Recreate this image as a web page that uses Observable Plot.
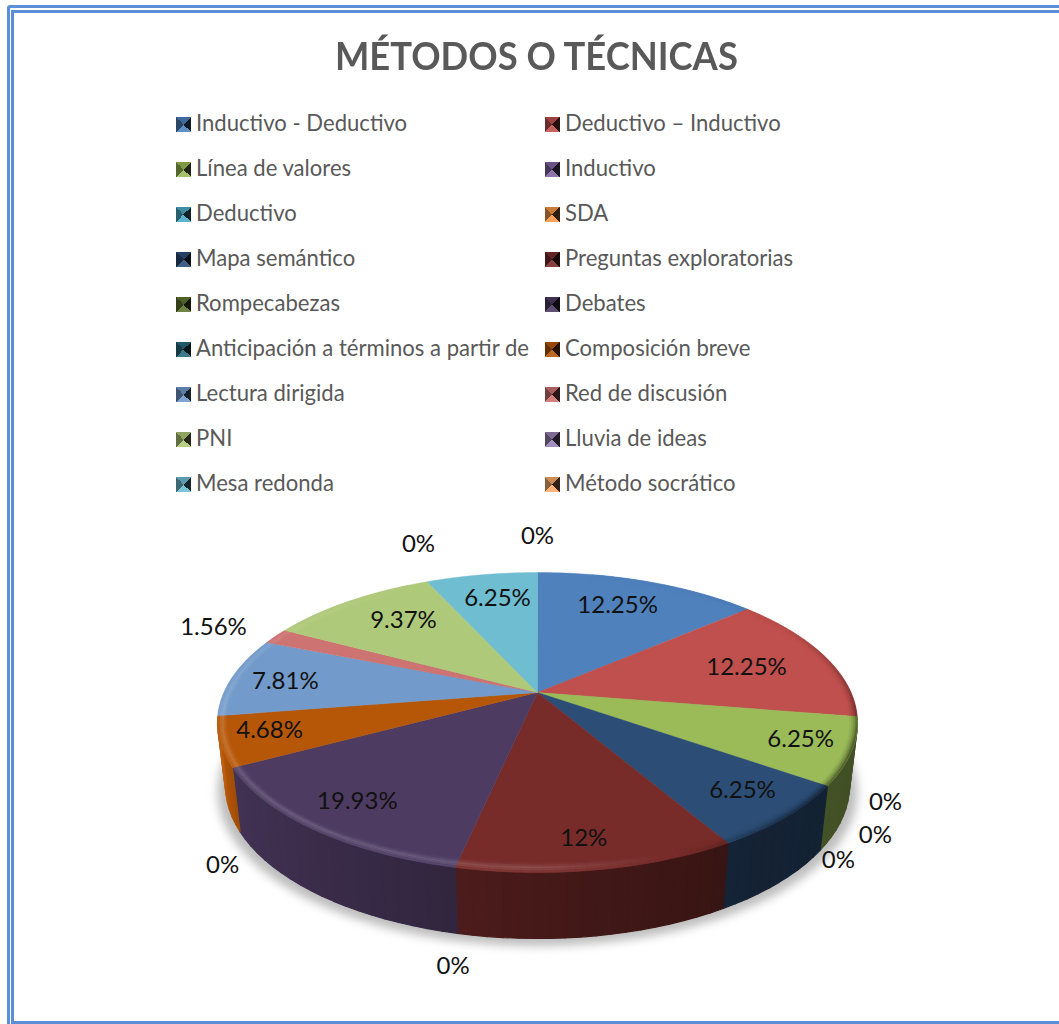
<!DOCTYPE html>
<html lang="es">
<head>
<meta charset="utf-8">
<script src="https://cdn.jsdelivr.net/npm/d3@7"></script>
<script src="https://cdn.jsdelivr.net/npm/@observablehq/plot@0.6"></script>
<style>
html,body{margin:0;padding:0;background:#fff;width:1059px;height:1024px;overflow:hidden;font-family:Lato,sans-serif}
.frame{position:absolute;border:3px solid #5b90d8;box-sizing:border-box}
#outer{left:7px;top:5px;width:1200px;height:1200px;border-radius:3px 0 0 0}
#inner{left:11px;top:10px;width:1200px;height:1014px}
#title{position:absolute;left:335px;top:31px;font-size:38px;line-height:48px;font-weight:700;color:#595959;white-space:nowrap;transform:scaleX(.957);transform-origin:0 50%}
.lg{position:absolute;font-size:22.1px;line-height:28px;color:#595959;white-space:nowrap}
.sw{position:absolute;width:15px;height:15px}
#pie{position:absolute;left:0;top:500px}
</style>
</head>
<body>
<div class="frame" id="outer"></div>
<div class="frame" id="inner"></div>
<div id="title">MÉTODOS O TÉCNICAS</div>
<div id="legend"></div>
<div id="pie"></div>
<script>
// Categories, in legend order
const categories = ["Inductivo - Deductivo","Deductivo – Inductivo","Línea de valores","Inductivo","Deductivo","SDA","Mapa semántico","Preguntas exploratorias","Rompecabezas","Debates","Anticipación a términos a partir de","Composición breve","Lectura dirigida","Red de discusión","PNI","Lluvia de ideas","Mesa redonda","Método socrático"];
// Percent labels printed on the chart
const percentLabels = ["12.25%","12.25%","6.25%","0%","0%","0%","6.25%","12%","0%","19.93%","0%","4.68%","7.81%","1.56%","9.37%","0%","6.25%","0%"];
// Share of the circle each slice occupies, as read from the drawn wedges
const sliceShares = [11.4,13,7.6,0,0,0,7.9,14.3,0,16,0,5.6,8.25,1.56,8.9,0,5.6,0];
const colors = ["#4f81bd","#c0504d","#9bbb59","#8064a2","#4bacc6","#f79646","#2c4d75","#772c2a","#5f7530","#4d3b62","#276a7c","#b65708","#729aca","#cd7371","#afc97a","#9983b5","#6fbdd1","#f9ab6b"];
// Label placement on the pie plane: bearing (deg clockwise from top) and reach (1 = rim)
const labelBearing = [17.8,60.7,97.8,116.1,125.5,134.4,125.3,169.4,189.2,226.9,225.9,266.4,289.1,302,328.4,342.6,351.4,0];
const labelReach = [.819,.749,.83,1.211,1.297,1.316,.785,.786,1.648,.771,1.37,.839,.834,1.194,.799,1.244,.836,1.24];

// Legend
const legend = d3.select("#legend");
const mix = (c, t, k) => d3.interpolateRgb(c, t)(k);
categories.forEach((name, i) => {
  const col = i % 2, row = (i - col) / 2;
  const y = 123 + 45 * row;
  const c = colors[i];
  legend.append("div").attr("class", "sw")
    .style("left", (col ? 545 : 175.5) + "px").style("top", (y - 6.5) + "px")
    .style("background", `conic-gradient(from 45deg, ${mix(c,"#000",.8)} 0 25%, ${mix(c,"#fff",.1)} 25% 50%, ${mix(c,"#000",.45)} 50% 75%, ${mix(c,"#000",.18)} 75% 100%)`);
  legend.append("div").attr("class", "lg")
    .style("left", (col ? 565 : 196) + "px").style("top", (y - 14) + "px")
    .text(name);
});

// Pie geometry in plane units (1 = rim)
const W = 1059, H = 524, RX = 320, RY = 150, CX = 537, CY = 222;
const rad = d => d * Math.PI / 180;
const apexY = 0.2;
const baseX = 0.975, baseY0 = -0.42, baseY = 1.02;
const bevelPx = 10;
const cum = d3.cumsum(sliceShares);
const total = cum[cum.length - 1];
const slices = categories.map((name, i) => ({
  i, name, color: colors[i],
  a0: (cum[i] - sliceShares[i]) / total * 360,
  a1: cum[i] / total * 360
}));
const arcAngles = (a0, a1, step = 1) => {
  const n = Math.max(1, Math.ceil((a1 - a0) / step));
  return d3.range(n + 1).map(k => a0 + (a1 - a0) * k / n);
};

const shade = d3.scaleLinear()
  .domain([0, 50, 80, 100, 130, 155, 180, 230, 272, 310, 340, 360])
  .range([0, -.05, -.3, -.5, -.35, 0, .15, .17, .17, .08, 0, 0]);
const sideFactor = d3.scaleLinear()
  .domain([60, 90, 140, 180, 215, 250, 272, 300])
  .range([.4, .42, .45, .58, .72, .85, 1.1, 1.1]);
const tone = (c, s) => s < 0 ? mix(c, "#000", -s) : mix(c, "#fff", s);
const darken = (c, f) => f <= 1 ? mix("#000", c, f) : mix(c, "#ffb060", f - 1);
// A point part way from the rim towards the apex, bevel-widths in from the rim
const ringPoint = (a, t) => {
  const px = Math.sin(rad(a)), py = Math.cos(rad(a));
  const dist = Math.hypot(RX * px, RY * (py - apexY));
  const k = 1 - t * bevelPx / dist;
  return [px * k, apexY + (py - apexY) * k];
};

const topPts = [], sidePts = [], bevelPts = [];
const pushPoly = (out, z, fill, pts) => {
  [...pts, pts[0]].forEach(([x, y]) => out.push({z, x, y, fill}));
};
const wallFrom = 88, wallTo = 272;
for (const s of slices) {
  if (s.a1 <= s.a0) continue;
  pushPoly(topPts, s.i, s.color, [[0, apexY], ...arcAngles(s.a0, s.a1).map(a => [Math.sin(rad(a)), Math.cos(rad(a))])]);
  // rim wall, in narrow strips, only where the rim faces the viewer
  if (s.a1 > wallFrom && s.a0 < wallTo) {
    const walls = arcAngles(Math.max(s.a0, wallFrom), Math.min(s.a1, wallTo), 3);
    walls.slice(1).forEach((a, k) => {
      const b = walls[k];
      pushPoly(sidePts, `w${s.i}-${k}`, darken(s.color, sideFactor((a + b) / 2)), [
        [Math.sin(rad(b)), Math.cos(rad(b))], [Math.sin(rad(a)), Math.cos(rad(a))],
        [baseX * Math.sin(rad(a)), baseY0 + baseY * Math.cos(rad(a))],
        [baseX * Math.sin(rad(b)), baseY0 + baseY * Math.cos(rad(b))]]);
    });
  }
  // bevel near the rim: dark sides hug the edge, light sides glow just inside it
  const lightW = [.15, .55, 1, .75, .35], darkW = [0, .1, .3, .6, 1];
  const steps = arcAngles(s.a0, s.a1, 2);
  steps.slice(1).forEach((a, k) => {
    const b = steps[k], sh = shade((a + b) / 2);
    if (Math.abs(sh) < .01) return;
    const weights = sh < 0 ? darkW : lightW;
    weights.forEach((w, t) => {
      const n = weights.length, t0 = 1 - t / n, t1 = 1 - (t + 1) / n;
      pushPoly(bevelPts, `b${s.i}-${k}-${t}`, tone(s.color, sh * w),
        [ringPoint(b, t0), ringPoint(a, t0), ringPoint(a, t1), ringPoint(b, t1)]);
    });
  });
}
const shadowPts = arcAngles(0, 360, 3).map(a => ({x: Math.sin(rad(a)), y: -.46 + 1.03 * Math.cos(rad(a))}));
const labelData = categories.map((name, i) => ({
  text: percentLabels[i],
  x: labelReach[i] * Math.sin(rad(labelBearing[i])),
  y: labelReach[i] * Math.cos(rad(labelBearing[i]))
}));

const chart = Plot.plot({
  width: W, height: H, margin: 0,
  style: {background: "transparent", overflow: "visible"},
  x: {axis: null, domain: [-CX / RX, (W - CX) / RX], range: [0, W]},
  y: {axis: null, domain: [CY / RY, (CY - H) / RY], range: [0, H]},
  color: {type: "identity"},
  marks: [
    Plot.line(shadowPts, {x: "x", y: "y", fill: "#bdbdbd", stroke: "none", imageFilter: "blur(5px)"}),
    Plot.line(sidePts, {x: "x", y: "y", z: "z", fill: "fill", stroke: "fill", strokeWidth: 1.2}),
    Plot.line(topPts, {x: "x", y: "y", z: "z", fill: "fill", stroke: "fill", strokeWidth: .4}),
    Plot.line(bevelPts, {x: "x", y: "y", z: "z", fill: "fill", stroke: "fill", strokeWidth: .3}),
    Plot.text(labelData, {x: "x", y: "y", text: "text", fill: "#111", fontSize: 24, fontFamily: "Lato, sans-serif", textAnchor: "middle", lineAnchor: "middle"})
  ]
});
document.getElementById("pie").appendChild(chart);
</script>
</body>
</html>
